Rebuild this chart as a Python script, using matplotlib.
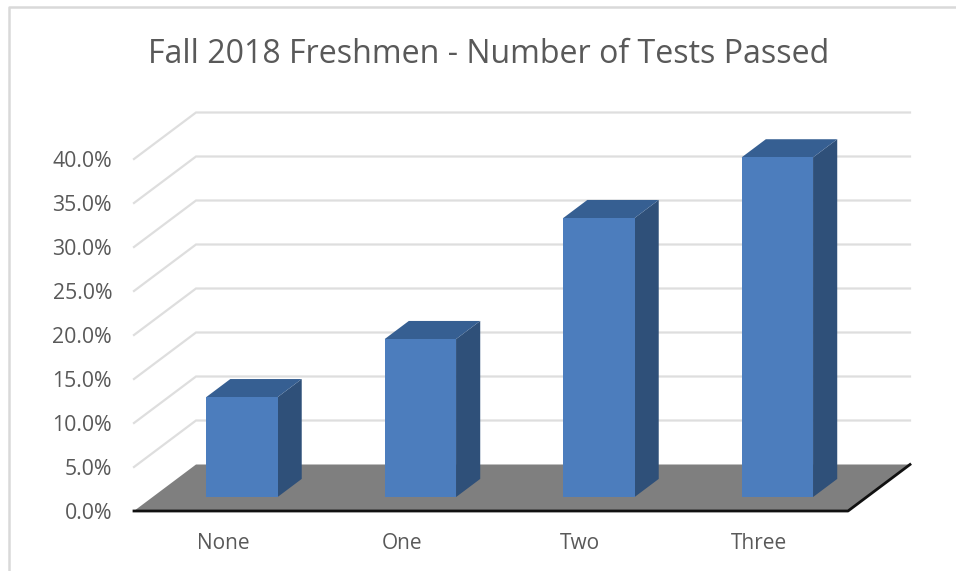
import matplotlib
matplotlib.use("Agg")
import matplotlib.pyplot as plt
from matplotlib.patches import Polygon

plt.rcParams['font.family'] = ['Open Sans', 'DejaVu Sans']

categories = ["None", "One", "Two", "Three"]
values = [11.35, 17.95, 31.7, 38.6]
tick_values = [0, 5, 10, 15, 20, 25, 30, 35, 40]
tick_labels = ["0.0%", "5.0%", "10.0%", "15.0%", "20.0%", "25.0%", "30.0%", "35.0%", "40.0%"]
title = "Fall 2018 Freshmen - Number of Tests Passed"

# pixel layout of the picture -> data units
W, H = 956, 571
x0, y0 = 134, 511      # front left corner of the floor
cat_w = 178.5          # px per category
pct_h = 8.8            # px per percent
depth_x = 62 / cat_w   # floor depth in data units
depth_y = 46.5 / pct_h
bar_w = 0.40
bar_front, bar_back = 0.30, 0.69

GRID = '#dedede'
TEXT = '#595959'


def proj(x, y, d=0.0):
    # d = 0 front plane, d = 1 back wall
    return (x + d * depth_x, y + d * depth_y)


fig = plt.figure(figsize=(W / 100, H / 100), dpi=100)
ax = fig.add_axes([0, 0, 1, 1])
ax.set_xlim(-x0 / cat_w, (W - x0) / cat_w)
ax.set_ylim((y0 - H) / pct_h, y0 / pct_h)
ax.axis('off')

# chart frame (only top and left are visible)
ax.plot([(9 - x0) / cat_w, (9 - x0) / cat_w, (W - x0) / cat_w],
        [(y0 - H) / pct_h, (y0 - 7) / pct_h, (y0 - 7) / pct_h],
        color='#d9d9d9', lw=1.8, zorder=1)

# gridlines on side and back walls
n = len(categories)
for v in tick_values[1:]:
    pts = [proj(0, v, 0), proj(0, v, 1), proj(n, v, 1)]
    ax.plot(*zip(*pts), color=GRID, lw=1.6, zorder=2, solid_joinstyle='miter')

# floor
floor = [proj(0, 0, 0), proj(n, 0, 0), proj(n, 0, 1), proj(0, 0, 1)]
ax.add_patch(Polygon(floor, closed=True, fc='#7f7f7f', ec='none', zorder=3))
ax.plot(*zip(proj(0, 0, 0), proj(n, 0, 0), proj(n, 0, 1)), color='#111111', lw=2.0, zorder=4)

# bars
for i, v in enumerate(values):
    left = i + 0.5 - bar_w / 2
    right = i + 0.5 + bar_w / 2
    front = [proj(left, 0, bar_front), proj(right, 0, bar_front),
             proj(right, v, bar_front), proj(left, v, bar_front)]
    side = [proj(right, 0, bar_front), proj(right, 0, bar_back),
            proj(right, v, bar_back), proj(right, v, bar_front)]
    top = [proj(left, v, bar_front), proj(right, v, bar_front),
           proj(right, v, bar_back), proj(left, v, bar_back)]
    ax.add_patch(Polygon(side, closed=True, fc='#2f5079', ec='none', zorder=5))
    ax.add_patch(Polygon(top, closed=True, fc='#365f92', ec='none', zorder=5))
    ax.add_patch(Polygon(front, closed=True, fc='#4c7dbd', ec='none', zorder=6))

# labels, placed on their baselines
for v, lab in zip(tick_values, tick_labels):
    ax.text((112 - x0) / cat_w, v + (y0 - 519) / pct_h, lab,
            ha='right', va='baseline', fontsize=15.3, color=TEXT)
for i, c in enumerate(categories):
    ax.text(i + 0.5, (y0 - 549) / pct_h, c, ha='center', va='baseline', fontsize=15, color=TEXT)
ax.text((489 - x0) / cat_w, (y0 - 63) / pct_h, title, ha='center', va='baseline', fontsize=23.1, color=TEXT)

fig.savefig('out.png', dpi=100)
